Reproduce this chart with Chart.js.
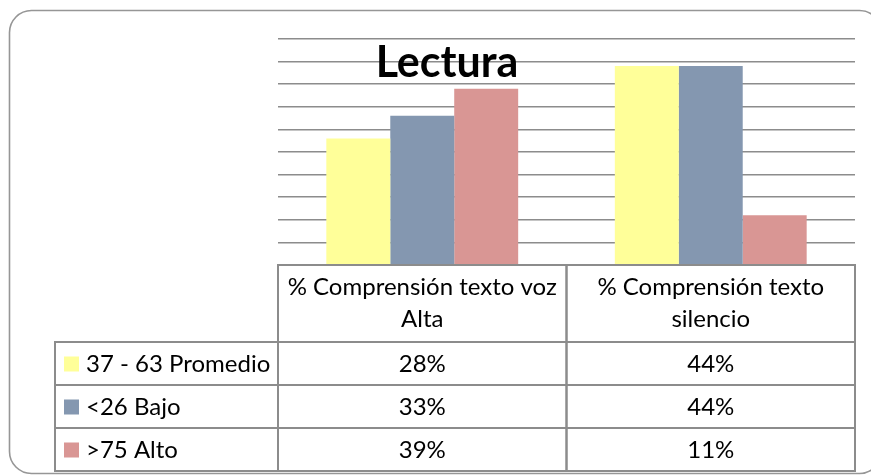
<!DOCTYPE html>
<html lang="es">
<head>
    <meta charset="UTF-8">
    <title>Lectura</title>
    <script src="https://cdn.jsdelivr.net/npm/chart.js"></script>
    <style>
        body {
            margin: 0;
            background: #fff;
            overflow: hidden;
        }
        canvas {
            display: block;
        }
    </style>
</head>
<body>
    <canvas id="lecturaChart" width="871" height="475"></canvas>

    <script>
        // data
        const categories = [['% Comprensión texto voz', 'Alta'], ['% Comprensión texto', 'silencio']];
        const seriesNames = ['37 - 63 Promedio', '<26 Bajo', '>75 Alto'];
        const promedio = [28, 44];
        const bajo = [33, 44];
        const alto = [39, 11];
        const colors = ['#ffff99', '#8497b0', '#d99694'];

        const font = 'Lato, "Open Sans", sans-serif';
        const lineGray = '#8c8c8c';

        // rounded frame, title and the data table under the bars
        const decorPlugin = {
            id: 'decor',
            beforeDraw(chart) {
                const ctx = chart.ctx;
                ctx.save();
                ctx.strokeStyle = '#969696';
                ctx.lineWidth = 1.6;
                ctx.beginPath();
                ctx.roundRect(9.5, 10.5, 872, 463, 22);
                ctx.stroke();
                ctx.restore();
            },
            afterDraw(chart) {
                const ctx = chart.ctx;
                const area = chart.chartArea;
                const x = chart.scales.x;
                const n = chart.data.labels.length;
                const colW = (area.right - area.left) / n;
                const top = area.bottom;
                const headH = 77;
                const rowH = 43;
                const legLeft = 55;

                ctx.save();
                // title
                ctx.fillStyle = '#000';
                ctx.font = 'bold 43px ' + font;
                ctx.textAlign = 'center';
                ctx.textBaseline = 'alphabetic';
                ctx.fillText('Lectura', 447, 77);

                ctx.strokeStyle = lineGray;
                ctx.lineWidth = 2;
                ctx.font = '24px ' + font;
                ctx.textBaseline = 'middle';

                // header cells
                chart.data.labels.forEach((lab, i) => {
                    const cx = x.getPixelForValue(i);
                    ctx.strokeRect(cx - colW / 2, top, colW, headH);
                    const lines = Array.isArray(lab) ? lab : [lab];
                    const lh = 32;
                    const y0 = top + headH / 2 - (lines.length - 1) * lh / 2;
                    ctx.fillStyle = '#000';
                    ctx.textAlign = 'center';
                    lines.forEach((l, k) => ctx.fillText(l, cx, y0 + k * lh));
                });

                // data rows
                chart.data.datasets.forEach((ds, r) => {
                    const y = top + headH + r * rowH;
                    ctx.strokeRect(legLeft, y, area.left - legLeft, rowH);
                    ctx.fillStyle = ds.backgroundColor;
                    ctx.fillRect(64, y + rowH / 2 - 7, 15, 15);
                    ctx.fillStyle = '#000';
                    ctx.textAlign = 'left';
                    ctx.fillText(ds.label, 86, y + rowH / 2 + 1);
                    ds.data.forEach((v, i) => {
                        const cx = x.getPixelForValue(i);
                        ctx.strokeRect(cx - colW / 2, y, colW, rowH);
                        ctx.textAlign = 'center';
                        ctx.fillText(v + '%', cx, y + rowH / 2 + 1);
                    });
                });
                ctx.restore();
            }
        };

        const ctx = document.getElementById('lecturaChart').getContext('2d');
        new Chart(ctx, {
            type: 'bar',
            data: {
                labels: categories,
                datasets: [promedio, bajo, alto].map((d, i) => ({
                    label: seriesNames[i],
                    data: d,
                    backgroundColor: colors[i],
                    borderWidth: 0,
                    categoryPercentage: 0.665,
                    barPercentage: 1.0
                }))
            },
            options: {
                responsive: false,
                animation: false,
                layout: {
                    padding: { left: 278, right: 16, top: 39, bottom: 210 }
                },
                plugins: {
                    legend: { display: false },
                    title: { display: false },
                    tooltip: { enabled: false }
                },
                scales: {
                    x: {
                        display: false
                    },
                    y: {
                        min: 0,
                        max: 50,
                        ticks: { stepSize: 5, display: false },
                        border: { display: false },
                        grid: { color: lineGray, lineWidth: 1.5, drawTicks: false },
                        afterFit: s => { s.width = 0; }
                    }
                }
            },
            plugins: [decorPlugin]
        });
    </script>
</body>
</html>
